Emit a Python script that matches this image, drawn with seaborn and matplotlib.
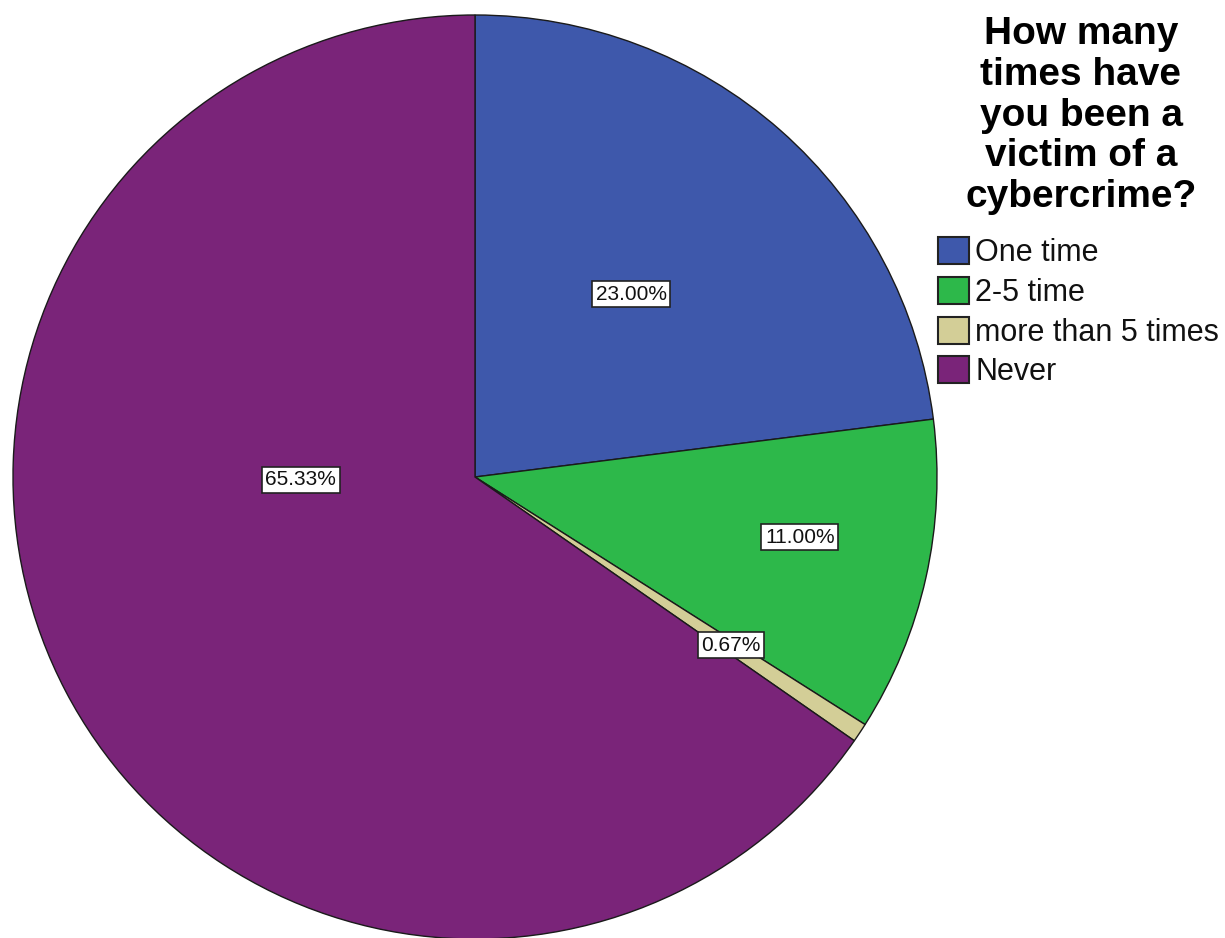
import matplotlib
matplotlib.use("Agg")
import matplotlib.pyplot as plt
import seaborn as sns

# Survey responses: number of times respondents were victims of cybercrime
categories = ["One time", "2-5 time", "more than 5 times", "Never"]
percentages = [23.00, 11.00, 0.67, 65.33]
slice_colors = ["#3E58AB", "#2DB84A", "#D3CE97", "#7A2479"]
title_text = "How many\ntimes have\nyou been a\nvictim of a\ncybercrime?"

sns.set_theme(style="white")
plt.rcParams["font.family"] = ["Liberation Sans", "DejaVu Sans"]
palette = sns.color_palette(slice_colors)

W, H = 1225, 938
fig = plt.figure(figsize=(W / 100, H / 100), dpi=100)
fig.patch.set_facecolor("white")

# Pie centred at (475, 477) px with a radius of 462 px
cx, cy, r = 475, 477, 462
ax = fig.add_axes([(cx - r) / W, (H - cy - r) / H, 2 * r / W, 2 * r / H])

wedges, _ = ax.pie(
    percentages,
    colors=palette,
    startangle=90,
    counterclock=False,
    wedgeprops=dict(edgecolor="#1a1a1a", linewidth=1.0),
)
ax.set_xlim(-1, 1)
ax.set_ylim(-1, 1)
ax.set_aspect("auto")
ax.axis("off")

# Percentage labels in white boxes
label_pos = [(0.338, 0.396), (0.703, -0.130), (0.554, -0.364), (-0.377, -0.006)]
for (lx, ly), pct in zip(label_pos, percentages):
    ax.text(lx, ly, f"{pct:.2f}%", ha="center", va="center", fontsize=15,
            color="#111111",
            bbox=dict(boxstyle="square,pad=0.18", facecolor="white",
                      edgecolor="#222222", linewidth=1.2))

# Legend title
fig.text(1081 / W, 1 - 16 / H, title_text, ha="center", va="top",
         fontsize=28, fontweight="bold", linespacing=1.17, color="black")

leg = fig.legend(
    wedges, categories,
    loc="upper left",
    bbox_to_anchor=(938 / W, 1 - 237 / H),
    frameon=False,
    fontsize=22,
    handlelength=1.02,
    handleheight=0.98,
    handletextpad=0.2,
    labelspacing=0.29,
    borderpad=0,
    borderaxespad=0,
)
for t in leg.get_texts():
    t.set_color("#111111")
for h in leg.legend_handles:
    h.set_edgecolor("#222222")
    h.set_linewidth(1.5)

fig.savefig("out.png", dpi=100, facecolor="white")
